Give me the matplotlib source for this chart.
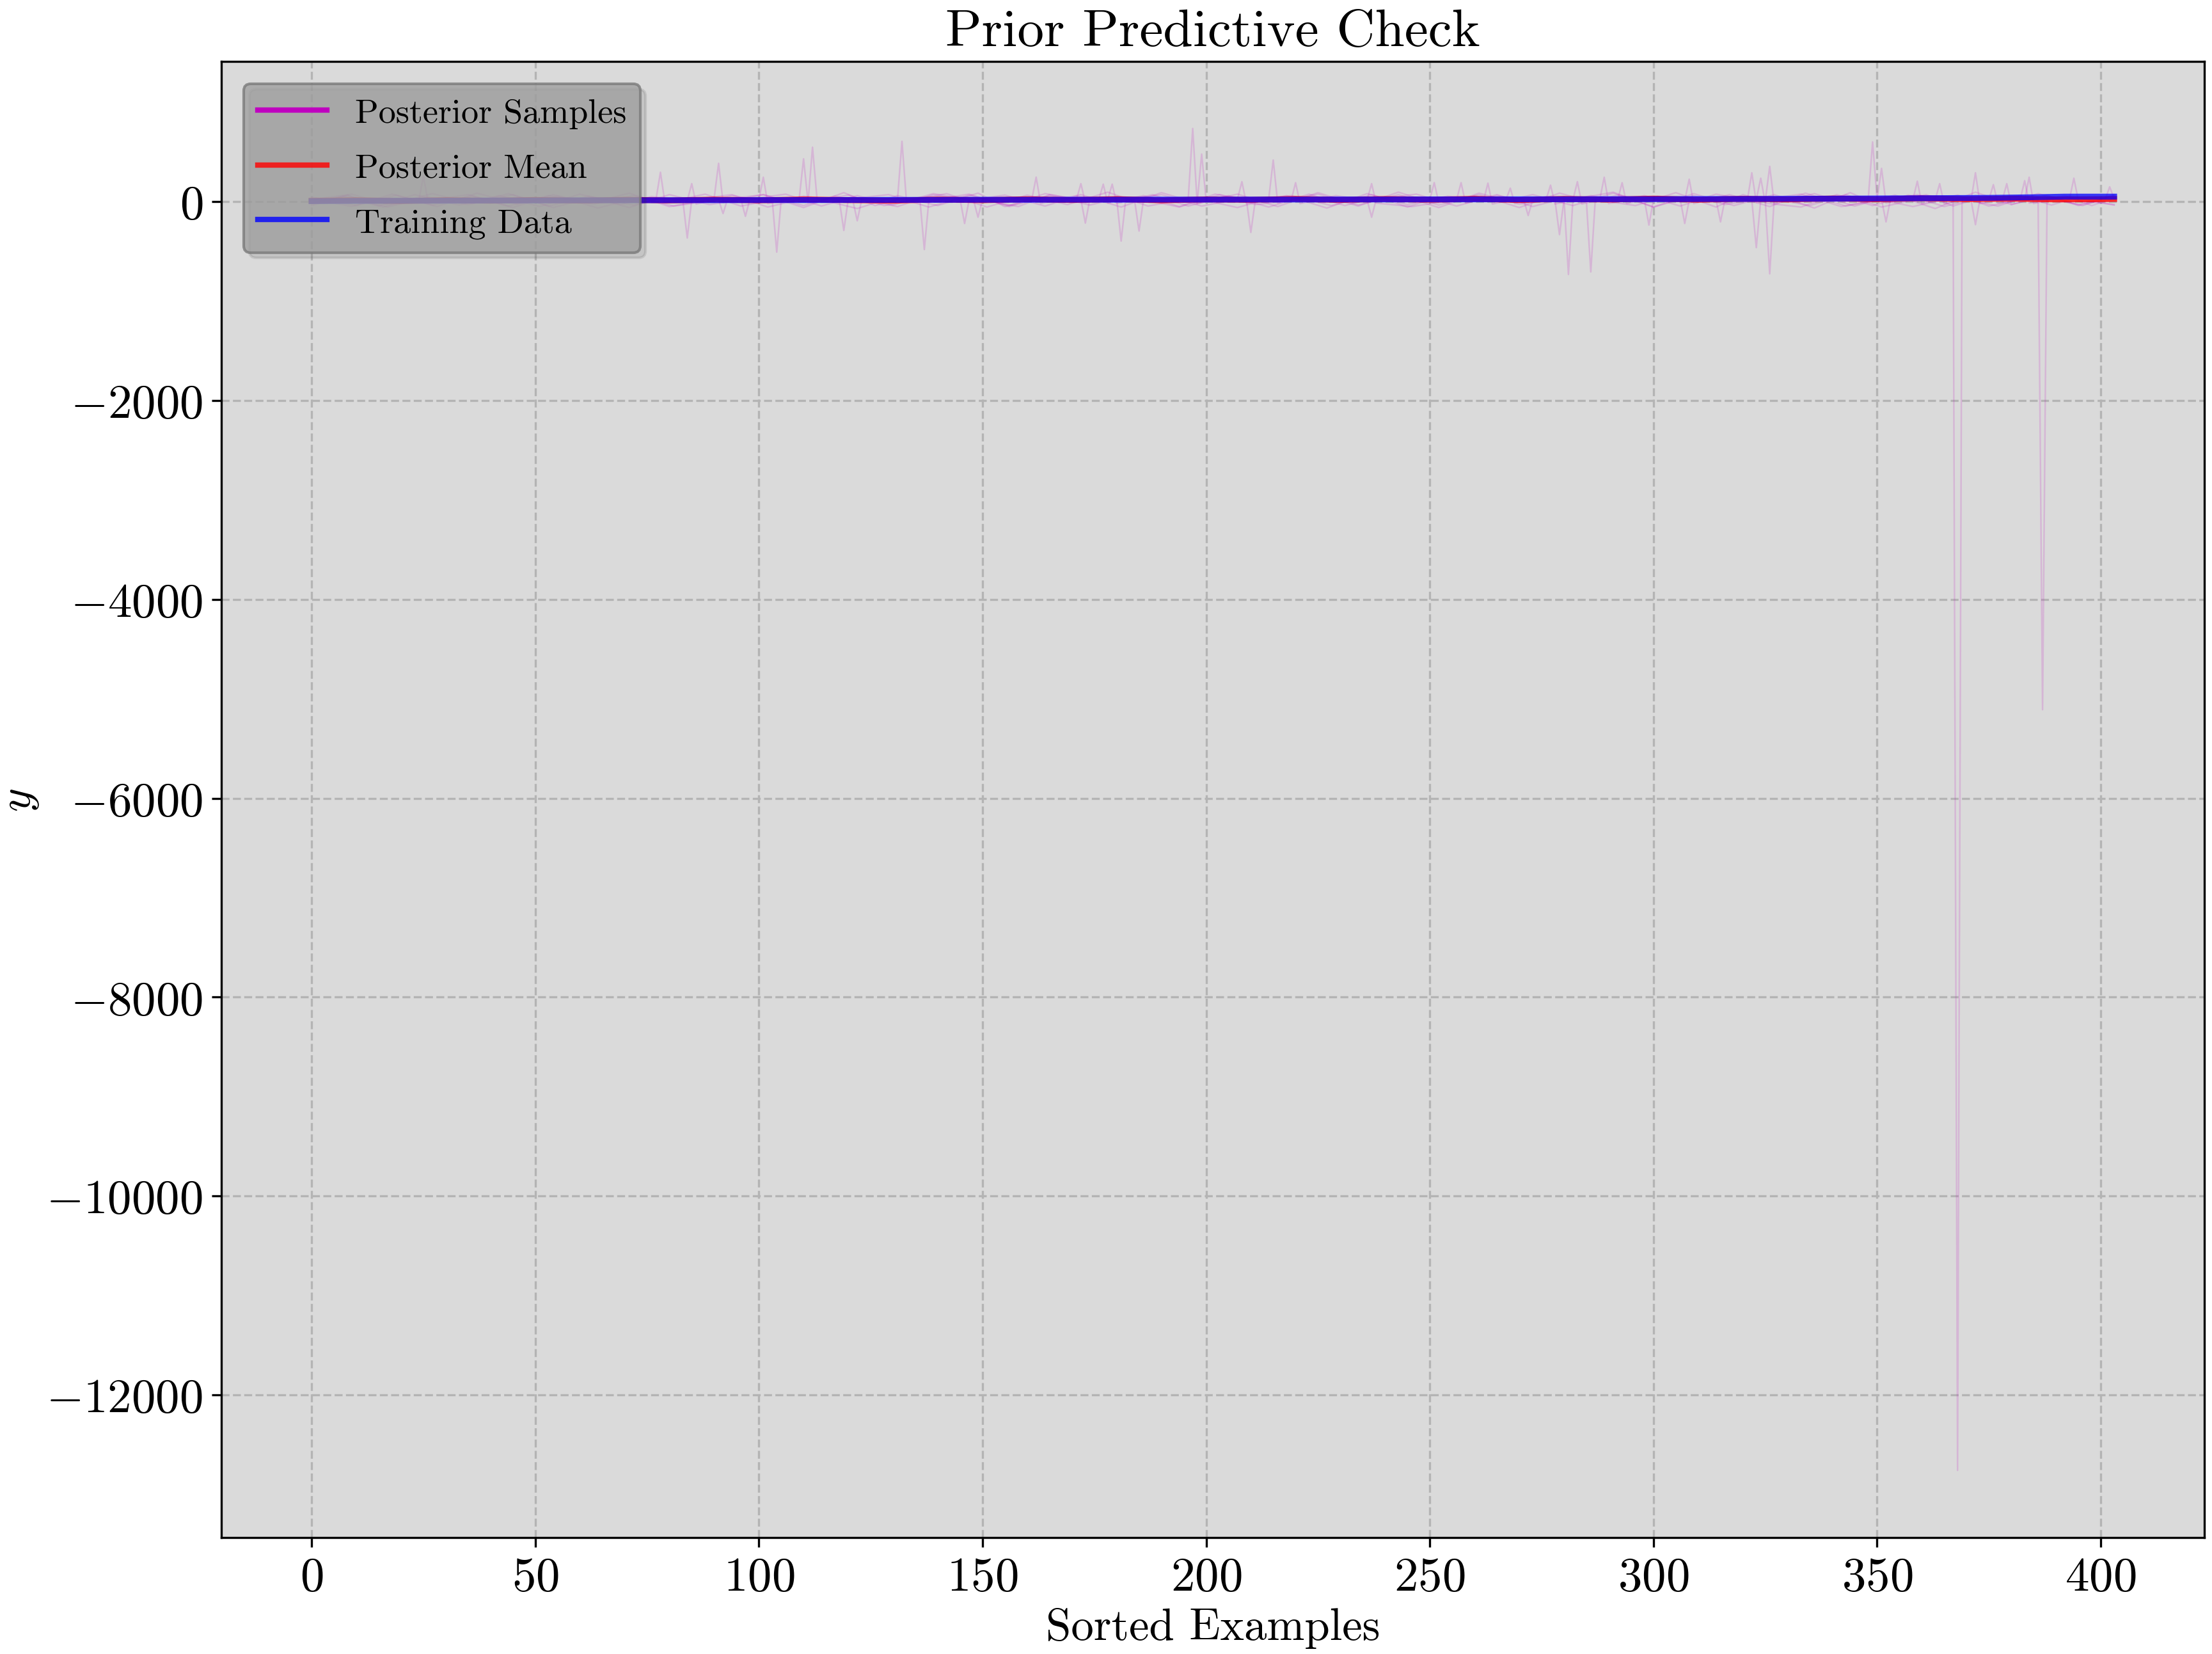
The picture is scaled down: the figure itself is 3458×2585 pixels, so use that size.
"""
Prior predictive check plot: sorted training targets against
posterior samples and the posterior mean.
"""

import matplotlib
matplotlib.use("Agg")
import matplotlib.pyplot as plt
from matplotlib.lines import Line2D


# ============================================================
#  Data
# ============================================================

# sorted training targets (blue)
train_x = [0, 10, 25, 50, 75, 100, 125, 150, 175, 200, 225, 250, 275,
           300, 325, 350, 365, 375, 385, 390, 392, 403]
train_y = [5.0, 7.2, 8.8, 11.7, 13.8, 15.2, 16.6, 18.5, 19.4, 20.3, 21.2,
           22.2, 23.3, 24.6, 27.1, 31.5, 35.0, 37.6, 43.8, 48.3, 50.0, 50.0]

# posterior mean (red)
mean_x = [0, 10, 20, 30, 40, 50, 60, 70, 80, 90, 100, 110, 120, 130, 140,
          150, 160, 170, 180, 190, 200, 210, 220, 230, 240, 250, 260, 270,
          280, 290, 300, 310, 320, 330, 340, 350, 360, 370, 380, 390, 400, 403]
mean_y = [8, 14, 6, 15, 9, 17, 10, 18, 12, 20, 13, 22, 15, 10, 21, 14, 24,
          16, 25, 13, 22, 18, 27, 17, 26, 19, 28, 16, 27, 20, 30, 19, 28, 22,
          31, 24, 33, 25, 30, 22, 24, 26]

# individual posterior draws (magenta), (example index, value)
sample_1 = [(0, 20), (9, 75), (17, -30), (24, 15), (25, 257), (26, 10), (35, 70),
            (44, -45), (53, 60), (62, -20), (71, 85), (80, -50), (90, 30),
            (91, 385), (92, -10), (101, 70), (110, -60), (119, 90), (126, -40),
            (131, 20), (132, 606), (133, 5), (142, 80), (151, -55), (160, 65),
            (169, -30), (178, 95), (187, -45), (196, 30), (197, 735), (198, -20),
            (207, 75), (216, -50), (225, 90), (234, -35), (243, 70), (252, -60),
            (261, 85), (270, -25), (280, 40), (281, -733), (282, 20), (291, 95),
            (300, -55), (309, 80), (318, -40), (327, 70), (336, -65), (344, 90),
            (348, 10), (349, 600), (350, 25), (358, -50), (367, 40),
            (368, -12760), (369, 30), (377, -45), (386, 80), (395, -30), (403, 60)]
sample_2 = [(0, -25), (8, 60), (16, -55), (27, 80), (36, -20), (45, 70), (54, -60),
            (63, 45), (72, -35), (77, 20), (78, 295), (79, -10), (88, 75),
            (96, -45), (103, 15), (104, -508), (105, 25), (111, -10), (112, 547),
            (113, 30), (122, -70), (131, 60), (140, -40), (149, 85), (155, -50),
            (161, 15), (162, 246), (163, -20), (172, 70), (181, -55), (190, 90),
            (198, -15), (199, 478), (200, 10), (207, -60), (214, 30), (215, 418),
            (216, -15), (225, 75), (234, -45), (243, 95), (252, -35), (261, 70),
            (270, -60), (279, 85), (285, 15), (286, -707), (287, 20), (296, -40),
            (305, 90), (314, -55), (320, 70), (325, 5), (326, 354), (327, -20),
            (336, 80), (345, -45), (354, 65), (363, -70), (372, 95), (380, -30),
            (386, 40), (387, -5110), (388, 35), (396, -40), (403, 70)]
sample_3 = [(0, 45), (10, -40), (19, 65), (28, -50), (37, 85), (46, -25), (55, 55),
            (64, -65), (73, 40), (83, 15), (84, -366), (85, 20), (94, 70),
            (102, -55), (109, 20), (110, 430), (111, -10), (120, 65), (128, -40),
            (136, 25), (137, -482), (138, 10), (147, 75), (156, -50), (165, 60),
            (174, -35), (180, 30), (181, -397), (182, 15), (190, 70), (199, -45),
            (207, 25), (208, 200), (209, -20), (218, 60), (227, -65), (236, 80),
            (245, -30), (254, 55), (262, 5), (263, 185), (264, -25), (273, 70),
            (282, -40), (291, 85), (300, -55), (309, 60), (316, -30), (322, 15),
            (323, -463), (324, 20), (333, 75), (342, -50), (350, 20), (351, 334),
            (352, -15), (361, 70), (367, -45), (371, 10), (372, 290), (373, -20),
            (382, 60), (389, -35), (393, 20), (394, 235), (395, 10), (403, -30)]
sample_4 = [(0, -10), (7, 55), (15, -45), (23, 70), (33, -35), (42, 60), (51, -50),
            (60, 75), (69, -30), (76, 50), (84, 10), (85, 180), (86, -25),
            (94, 60), (100, 15), (101, 245), (102, -20), (110, 55), (118, 10),
            (119, -290), (120, 25), (129, 70), (138, -55), (147, 65), (156, -40),
            (164, 80), (171, 20), (172, 180), (173, -10), (180, 50), (184, 15),
            (185, -296), (186, 20), (194, -55), (203, 70), (211, -30), (219, 10),
            (220, 190), (221, -20), (229, 60), (236, 15), (237, -157), (238, 20),
            (247, 75), (256, -45), (265, 70), (273, -50), (278, 10), (279, -332),
            (280, 15), (288, 20), (289, 245), (290, -20), (298, 60), (306, -45),
            (314, 75), (321, 15), (322, 290), (323, -10), (325, 20), (326, -727),
            (327, 25), (335, -40), (343, 70), (351, -55), (358, 15), (359, 205),
            (360, -20), (368, 65), (375, -45), (382, 20), (383, 210), (384, -15),
            (392, 60), (398, -40), (403, 35)]
sample_5 = [(0, 30), (9, -50), (18, 75), (27, -35), (36, 55), (45, -60), (54, 70),
            (63, -25), (72, 60), (81, -45), (91, 20), (92, -120), (93, 25),
            (101, 70), (110, -40), (117, 55), (121, 15), (122, -193), (123, 20),
            (131, -50), (139, 70), (145, 20), (146, -220), (147, 15), (155, 65),
            (164, -45), (171, 55), (176, 20), (177, 175), (178, -15), (186, 60),
            (194, -50), (202, 75), (209, 20), (210, -310), (211, 15), (219, 60),
            (228, -40), (237, 70), (245, -55), (250, 20), (251, 190), (252, -10),
            (260, 55), (267, 15), (268, 135), (269, -20), (276, 50), (282, 15),
            (283, 200), (284, -25), (292, 65), (298, 15), (299, -236), (300, 20),
            (307, 10), (308, 225), (309, -20), (317, 70), (326, -50), (334, 85),
            (343, -45), (351, 20), (352, -204), (353, 25), (359, 70), (363, 20),
            (364, 180), (365, -25), (372, 60), (378, 15), (379, 180), (380, -30),
            (388, 65), (395, -40), (401, 20), (402, 148), (403, 30)]
sample_6 = [(0, -40), (8, 65), (17, -55), (26, 45), (35, -30), (44, 80), (53, -45),
            (62, 55), (71, -60), (80, 70), (89, -30), (96, 20), (97, -148),
            (98, 25), (106, 75), (114, -45), (122, 60), (130, -35), (139, 80),
            (148, 15), (149, -157), (150, 20), (158, -50), (165, 70), (172, 20),
            (173, -216), (174, 25), (178, 20), (179, 175), (180, -20), (188, 70),
            (196, -45), (205, 60), (214, -55), (223, 75), (231, -40), (236, 20),
            (237, 180), (238, -15), (246, -50), (256, 20), (257, 190), (258, -15),
            (265, 60), (271, 20), (272, -140), (273, 15), (276, 20), (277, 165),
            (278, -25), (286, 60), (292, 15), (293, 190), (294, -20), (301, 55),
            (306, 20), (307, -220), (308, 15), (314, 20), (315, -204), (316, 25),
            (323, 20), (324, 235), (325, -15), (333, -55), (341, 70), (349, -40),
            (357, 65), (365, -50), (371, 20), (372, -232), (373, 25), (375, 20),
            (376, 170), (377, -15), (383, 20), (384, 245), (385, -20), (393, 55),
            (403, -35)]

samples = [sample_1, sample_2, sample_3, sample_4, sample_5, sample_6]


# ============================================================
#  Style
# ============================================================

plt.rcParams.update({
    "font.family": "cmr10",
    "mathtext.fontset": "cm",
    "axes.formatter.use_mathtext": True,
    "axes.unicode_minus": True,
    "font.size": 18,
})

fig = plt.figure(figsize=(3458 / 300, 2586 / 300), dpi=300)
ax = fig.add_axes([0.1001, 0.0704, 0.8964, 0.8921])
ax.set_facecolor("#dadada")

# posterior draws, faint
for s in samples:
    xs = [p[0] for p in s]
    ys = [p[1] for p in s]
    ax.plot(xs, ys, color="m", alpha=0.16, linewidth=0.6)

ax.plot(mean_x, mean_y, color="red", alpha=0.8, linewidth=2.2)
ax.plot(train_x, train_y, color="blue", alpha=0.75, linewidth=2.2)

ax.grid(True, linestyle="--", color="#b4b4b4", linewidth=0.8)
ax.set_axisbelow(True)

ax.set_xlabel("Sorted Examples", fontsize=17, labelpad=3)
ax.set_ylabel("$y$", fontsize=17, labelpad=2)
ax.set_title("Prior Predictive Check", fontsize=20, pad=6)
ax.tick_params(labelsize=18)

# legend with solid proxy handles
handles = [
    Line2D([], [], color="m", linewidth=2.0),
    Line2D([], [], color="red", alpha=0.8, linewidth=2.0),
    Line2D([], [], color="blue", alpha=0.8, linewidth=2.0),
]
ax.legend(
    handles,
    ["Posterior Samples", "Posterior Mean", "Training Data"],
    loc="upper left",
    fontsize=13,
    labelspacing=0.7,
    borderaxespad=0.65,
    facecolor="#a0a0a0",
    edgecolor="#7a7a7a",
    framealpha=0.8,
    shadow={"alpha": 0.12},
)

fig.savefig("out.png", dpi=300)
